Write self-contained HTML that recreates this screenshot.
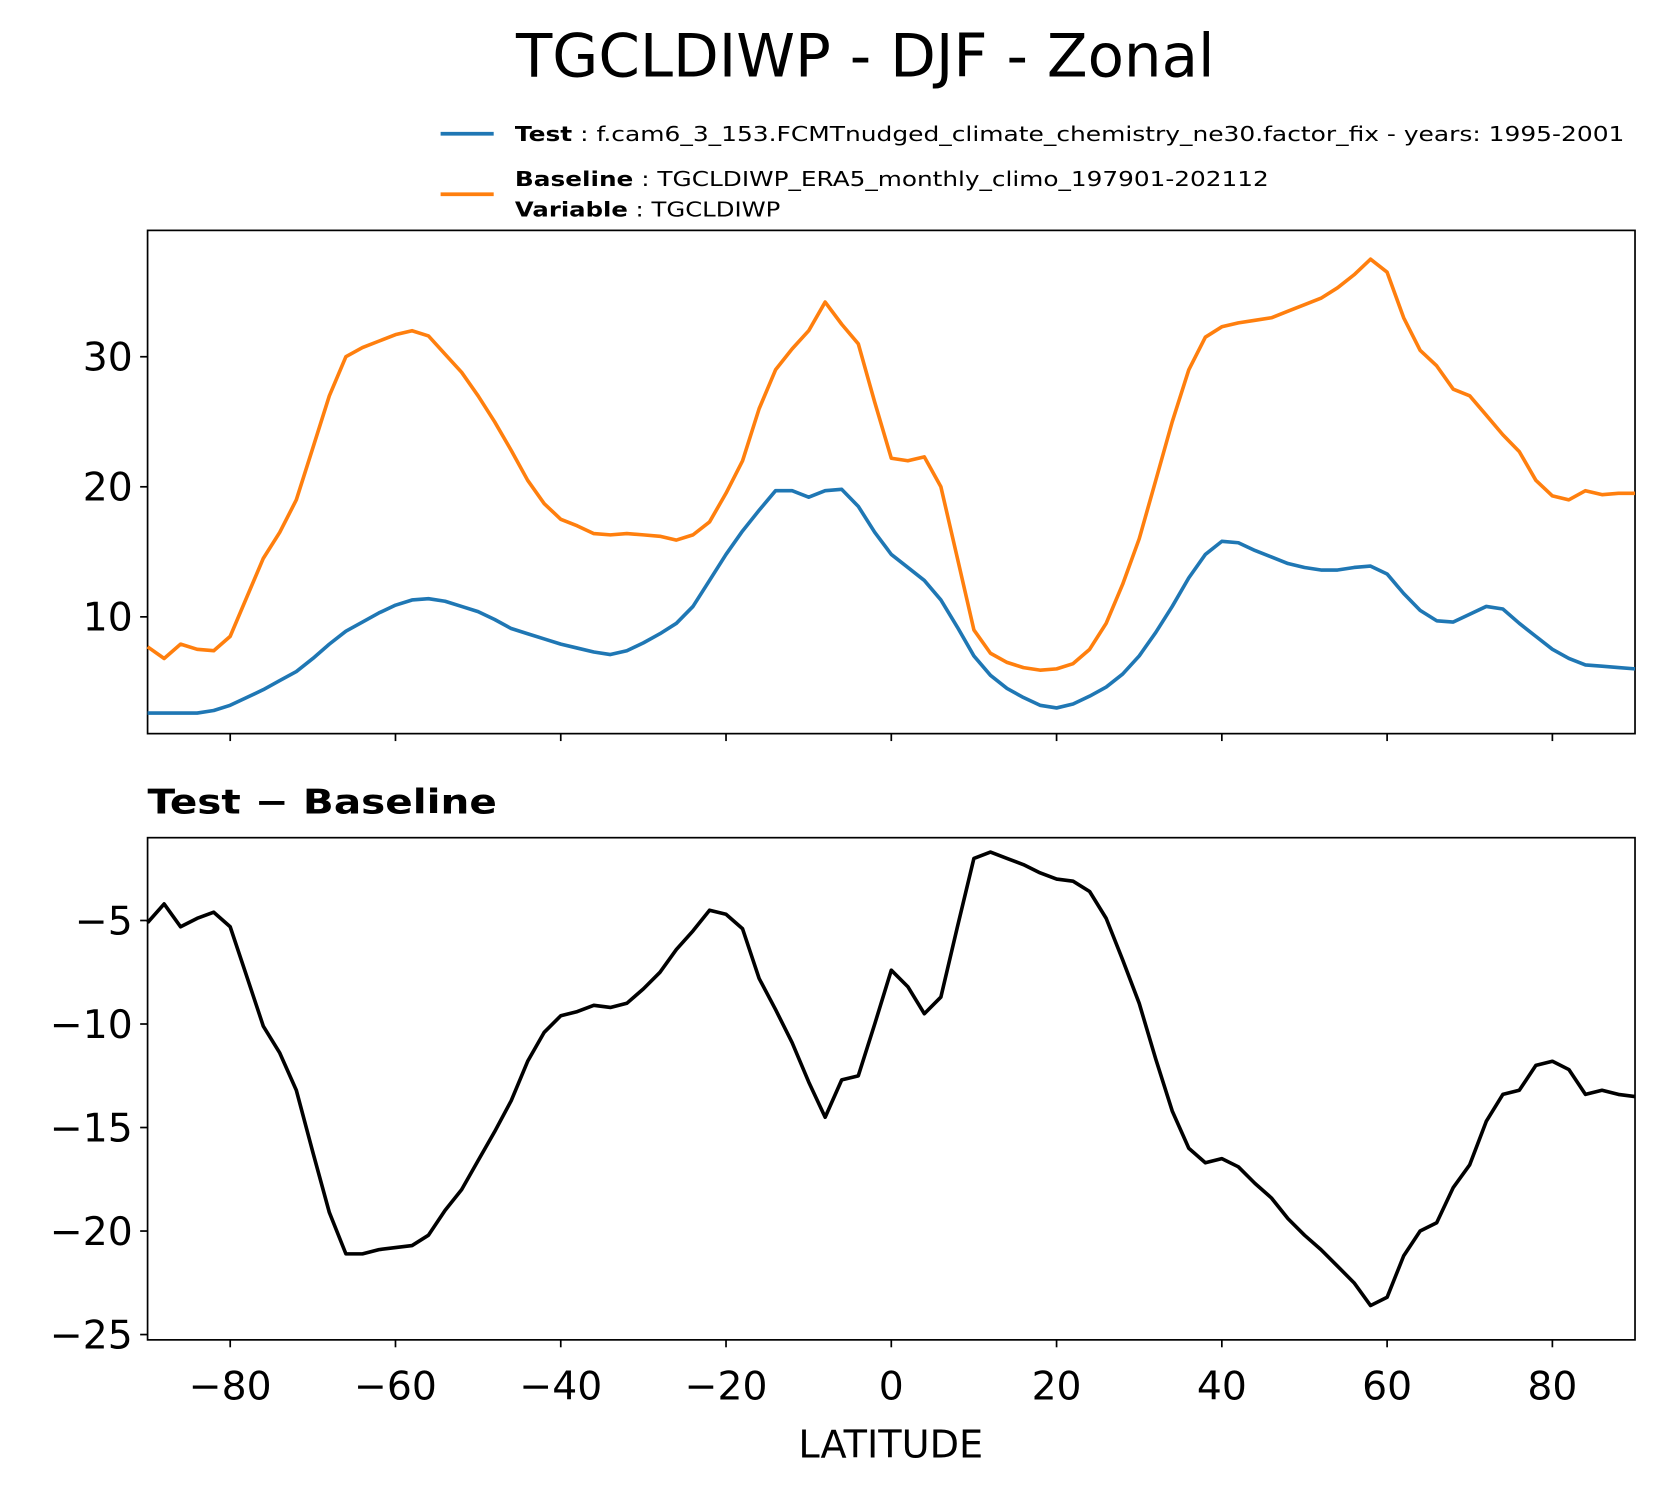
<!DOCTYPE html>
<html><head><meta charset="utf-8"><style>
html,body{margin:0;padding:0;background:#fff;}
svg{display:block;font-family:"DejaVu Sans","Liberation Sans",sans-serif;}
</style></head><body>
<svg id="c" width="1665" height="1496" viewBox="0 0 1665 1496" xmlns="http://www.w3.org/2000/svg">
<g transform="scale(1.0617)">
<text x="815" y="72" font-size="56" text-anchor="middle">TGCLDIWP - DJF - Zonal</text>
<g>
<line x1="415" y1="126" x2="465" y2="126" stroke="#1f77b4" stroke-width="3.5"/>
<text x="485" y="133" font-size="19" textLength="1045" lengthAdjust="spacingAndGlyphs"><tspan font-weight="bold">Test</tspan> : f.cam6_3_153.FCMTnudged_climate_chemistry_ne30.factor_fix - years: 1995-2001</text>
<line x1="415" y1="183" x2="465" y2="183" stroke="#ff7f0e" stroke-width="3.5"/>
<text x="485" y="175" font-size="19" textLength="710" lengthAdjust="spacingAndGlyphs"><tspan font-weight="bold">Baseline</tspan> : TGCLDIWP_ERA5_monthly_climo_197901-202112</text>
<text x="485" y="204" font-size="19" textLength="250" lengthAdjust="spacingAndGlyphs"><tspan font-weight="bold">Variable</tspan> : TGCLDIWP</text>
</g>
<text x="139" y="766" font-size="32" font-weight="bold" textLength="329" lengthAdjust="spacingAndGlyphs">Test − Baseline</text>
<text x="839" y="1373" font-size="36" text-anchor="middle">LATITUDE</text>
<g id="g"></g>
</g>
</svg>
<script>
const lats = [];
for (let v = -90; v <= 90; v += 2) lats.push(v);
const baseline = [7.7,6.8,7.9,7.5,7.4,8.5,11.5,14.5,16.5,19,23,27,30,30.7,31.2,31.7,32,31.6,30.2,28.8,27,25,22.8,20.5,18.7,17.5,17,16.4,16.3,16.4,16.3,16.2,15.9,16.3,17.3,19.5,22,26,29,30.6,32,34.2,32.5,31,26.5,22.2,22,22.3,20,14.5,9,7.2,6.5,6.1,5.9,6,6.4,7.5,9.5,12.5,16,20.5,25,29,31.5,32.3,32.6,32.8,33,33.5,34,34.5,35.3,36.3,37.5,36.5,33,30.5,29.3,27.5,27,25.5,24,22.7,20.5,19.3,19,19.7,19.4,19.5,19.5];
const test = [2.6,2.6,2.6,2.6,2.8,3.2,3.8,4.4,5.1,5.8,6.8,7.9,8.9,9.6,10.3,10.9,11.3,11.4,11.2,10.8,10.4,9.8,9.1,8.7,8.3,7.9,7.6,7.3,7.1,7.4,8.0,8.7,9.5,10.8,12.8,14.8,16.6,18.2,19.7,19.7,19.2,19.7,19.8,18.5,16.5,14.8,13.8,12.8,11.3,9.2,7,5.5,4.5,3.8,3.2,3,3.3,3.9,4.6,5.6,7,8.8,10.8,13,14.8,15.8,15.7,15.1,14.6,14.1,13.8,13.6,13.6,13.8,13.9,13.3,11.8,10.5,9.7,9.6,10.2,10.8,10.6,9.5,8.5,7.5,6.8,6.3,6.2,6.1,6.0];
const xTicks = [-80,-60,-40,-20,0,20,40,60,80];
const topTicks = [10,20,30];
const botTicks = [-5,-10,-15,-20,-25];

const NS = "http://www.w3.org/2000/svg";
const g = document.getElementById('g');
const X = v => 139 + (v + 90) * (1401 / 180);
const Yt = v => 581 - (v - 10) * 12.25;
function Ybot(v){ return 867 + (-5 - v) * 19.5; }
function el(tag, attrs){ const e = document.createElementNS(NS, tag); for (const k in attrs) e.setAttribute(k, attrs[k]); g.appendChild(e); return e; }

function panel(top, bottom, yfn, yticks, name, labels){
  const r = el('rect', {x:139, y:top, width:1401, height:bottom-top, fill:'none', stroke:'#000', 'stroke-width':1.6});
  
  
  xTicks.forEach(t => {
    const l = el('line', {x1:X(t), x2:X(t), y1:bottom, y2:bottom+7, stroke:'#000', 'stroke-width':1.6});
    
    
    if (labels) {
      const tx = el('text', {x:X(t), y:bottom+56, 'font-size':37, 'text-anchor':'middle'});
      tx.textContent = t < 0 ? '−' + (-t) : String(t);
      
      
    }
  });
  yticks.forEach(t => {
    const y = yfn(t);
    const l = el('line', {x1:132, x2:139, y1:y, y2:y, stroke:'#000', 'stroke-width':1.6});
    
    
    const tx = el('text', {x:125, y:y+13, 'font-size':37, 'text-anchor':'end'});
    tx.textContent = t < 0 ? '−' + (-t) : String(t);
    
    
  });
}
function line(vals, yfn, color, name){
  const d = vals.map((v,i) => (i ? 'L' : 'M') + X(lats[i]).toFixed(1) + ' ' + yfn(v).toFixed(1)).join(' ');
  const p = el('path', {d, fill:'none', stroke:color, 'stroke-width':3.4, 'stroke-linejoin':'round'});
  
  
}
panel(217, 691, Yt, topTicks, 'top-panel', false);
panel(789, 1262, Ybot, botTicks, 'diff-panel', true);
line(baseline, Yt, '#ff7f0e', 'baseline-line');
line(test, Yt, '#1f77b4', 'test-line');
const diff = test.map((v,i) => v - baseline[i]);
line(diff, Ybot, '#000', 'difference-line');
</script>
</body></html>
